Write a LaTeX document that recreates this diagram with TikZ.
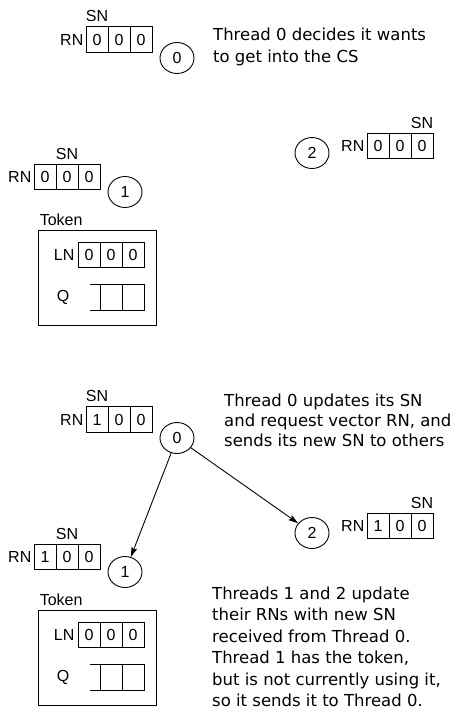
\documentclass[tikz,border=0pt]{standalone}
\usepackage{fontspec}
\setmainfont{Liberation Sans}
\newfontfamily\descfont{DejaVu Sans}
\usetikzlibrary{arrows.meta,shapes.geometric}
\begin{document}
\begin{tikzpicture}[x=1pt,y=-1pt,
  lbl/.style={font=\fontsize{16}{19}\selectfont, inner sep=0pt},
  cell/.style={draw, line width=0.9pt, minimum width=22pt, minimum height=25.5pt, inner sep=0pt, font=\fontsize{16}{19}\selectfont},
  thr/.style={draw, ellipse, line width=0.9pt, minimum width=34pt, minimum height=31pt, inner sep=0pt, font=\fontsize{16}{19}\selectfont},
  tokbox/.style={draw, line width=0.9pt, minimum width=118pt, minimum height=95pt, inner sep=0pt},
  desc/.style={font=\descfont\fontsize{16.5}{21}\selectfont, inner sep=0pt, anchor=base west},
  msg/.style={-{Stealth[length=10pt,width=6pt,inset=2pt]}, line width=0.9pt},
  qline/.style={line width=0.9pt},
]
\fill[white] (0,0) rectangle (454,715);
\useasboundingbox (0,0) rectangle (454,715);

% ================= top state =================
% thread 0
\node[cell] (a0a) at (97,39.5) {0};
\node[cell] (a0b) at (119,39.5) {0};
\node[cell] (a0c) at (141,39.5) {0};
\node[lbl, anchor=east, xshift=-2pt] (a0rn) at (a0a.west) {RN};
\node[lbl, anchor=south, yshift=4pt] (a0sn) at (a0a.north) {SN};
\node[thr] (ac0) at (177,58) {0};
\node[desc] (ad1) at (213,40) {Thread 0 decides it wants};
\node[desc] (ad2) at (213,62) {to get into the CS};

% thread 2
\node[cell] (a2a) at (378,146) {0};
\node[cell] (a2b) at (400,146) {0};
\node[cell] (a2c) at (422,146) {0};
\node[lbl, anchor=east, xshift=-2pt] (a2rn) at (a2a.west) {RN};
\node[lbl, anchor=south, yshift=4pt] (a2sn) at (a2c.north) {SN};
\node[thr] (ac2) at (312,153) {2};

% thread 1
\node[cell] (a1a) at (45,177) {0};
\node[cell] (a1b) at (67,177) {0};
\node[cell] (a1c) at (89,177) {0};
\node[lbl, anchor=east, xshift=-2pt] (a1rn) at (a1a.west) {RN};
\node[lbl, anchor=south, yshift=4pt] (a1sn) at (a1b.north) {SN};
\node[thr] (ac1) at (125,192) {1};

% token
\node[tokbox] (atok) at (97,277.5) {};
\node[lbl, anchor=south west, xshift=2pt, yshift=4pt] (atokl) at (atok.north west) {Token};
\node[cell] (aLa) at (89,255) {0};
\node[cell] (aLb) at (111,255) {0};
\node[cell] (aLc) at (133,255) {0};
\node[lbl, anchor=east, xshift=-3pt] (aLn) at (aLa.west) {LN};
\node[cell] (aQa) at (111,297.5) {};
\node[cell] (aQb) at (133,297.5) {};
\node[lbl] (aQl) at (63,297.5) {Q};
\draw[qline] (aQa.north west) -- ++(-10,0);
\draw[qline] (aQa.south west) -- ++(-10,0);

% ================= bottom state =================
% thread 0
\node[cell] (b0a) at (97,419.5) {1};
\node[cell] (b0b) at (119,419.5) {0};
\node[cell] (b0c) at (141,419.5) {0};
\node[lbl, anchor=east, xshift=-2pt] (b0rn) at (b0a.west) {RN};
\node[lbl, anchor=south, yshift=4pt] (b0sn) at (b0a.north) {SN};
\node[thr] (bc0) at (177,438) {0};
\node[desc] (bd1) at (224,406) {Thread 0 updates its SN};
\node[desc] (bd2) at (224,426) {and request vector RN, and};
\node[desc] (bd3) at (224,446) {sends its new SN to others};

% thread 2
\node[cell] (b2a) at (378,526) {1};
\node[cell] (b2b) at (400,526) {0};
\node[cell] (b2c) at (422,526) {0};
\node[lbl, anchor=east, xshift=-2pt] (b2rn) at (b2a.west) {RN};
\node[lbl, anchor=south, yshift=4pt] (b2sn) at (b2c.north) {SN};
\node[thr] (bc2) at (312,533) {2};

% thread 1
\node[cell] (b1a) at (45,557) {1};
\node[cell] (b1b) at (67,557) {0};
\node[cell] (b1c) at (89,557) {0};
\node[lbl, anchor=east, xshift=-2pt] (b1rn) at (b1a.west) {RN};
\node[lbl, anchor=south, yshift=4pt] (b1sn) at (b1b.north) {SN};
\node[thr] (bc1) at (125,572) {1};

% token
\node[tokbox] (btok) at (97,657.5) {};
\node[lbl, anchor=south west, xshift=2pt, yshift=4pt] (btokl) at (btok.north west) {Token};
\node[cell] (bLa) at (89,635) {0};
\node[cell] (bLb) at (111,635) {0};
\node[cell] (bLc) at (133,635) {0};
\node[lbl, anchor=east, xshift=-3pt] (bLn) at (bLa.west) {LN};
\node[cell] (bQa) at (111,677.5) {};
\node[cell] (bQb) at (133,677.5) {};
\node[lbl] (bQl) at (63,677.5) {Q};
\draw[qline] (bQa.north west) -- ++(-10,0);
\draw[qline] (bQa.south west) -- ++(-10,0);

% description
\node[desc] (be1) at (212,599) {Threads 1 and 2 update};
\node[desc] (be2) at (212,620.5) {their RNs with new SN};
\node[desc] (be3) at (212,642) {received from Thread 0.};
\node[desc] (be4) at (212,663.5) {Thread 1 has the token,};
\node[desc] (be5) at (212,685) {but is not currently using it,};
\node[desc] (be6) at (212,706.5) {so it sends it to Thread 0.};

% messages
\draw[msg] (bc0) -- (bc1);
\draw[msg] (bc0) -- (bc2);
\end{tikzpicture}
\end{document}
